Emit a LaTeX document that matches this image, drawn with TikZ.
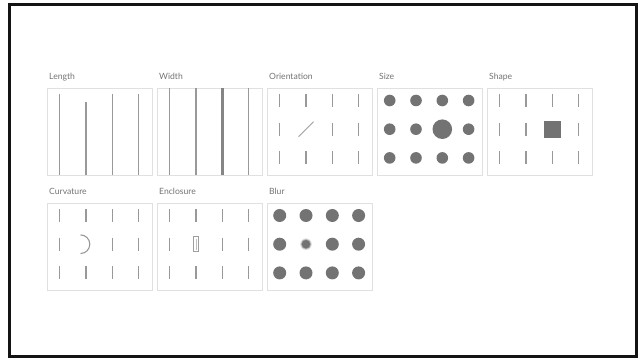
\documentclass[tikz,border=0pt]{standalone}
\usepackage{fontspec}
\setmainfont{Lato}
\begin{document}
\begin{tikzpicture}[x=1pt,y=-1pt,
  panel/.style={draw=black!12, line width=0.8pt, minimum width=105pt, minimum height=87pt, anchor=north west, inner sep=0pt},
  lbl/.style={anchor=base west, font=\fontsize{8.6}{10}\selectfont, text=black!55, inner sep=0pt},
  tick/.style={draw=black!40, line width=1.3pt},
  thin mark/.style={draw=black!38, line width=0.8pt},
  dot/.style={fill=black!55}]
\useasboundingbox (0,0) rectangle (642,358);
\draw[line width=3pt, black!92] (9.5,4.7) rectangle (636,356);

% panels
\node[panel] (L)  at (46.7,88) {};
\node[panel] (W)  at (156.7,88) {};
\node[panel] (O)  at (266.7,88) {};
\node[panel] (S)  at (376.7,88) {};
\node[panel] (Sh) at (486.7,88) {};
\node[panel] (C)  at (46.7,203) {};
\node[panel] (E)  at (156.7,203) {};
\node[panel] (B)  at (266.7,203) {};

% labels
\node[lbl] (tL)  at (49,80) {Length};
\node[lbl] (tW)  at (159,80) {Width};
\node[lbl] (tO)  at (269,80) {Orientation};
\node[lbl] (tS)  at (379,80) {Size};
\node[lbl] (tSh) at (489,80) {Shape};
\node[lbl] (tC)  at (49,195) {Curvature};
\node[lbl] (tE)  at (159,195) {Enclosure};
\node[lbl] (tB)  at (269,195) {Blur};

% Length
\begin{scope}[shift={(L.north west)}]
  \draw[tick] (13,6) -- (13,87);
  \draw[tick] (39.3,14) -- (39.3,87);
  \draw[tick] (65.6,6) -- (65.6,87);
  \draw[tick] (91.9,6) -- (91.9,87);
\end{scope}

% Width
\begin{scope}[shift={(W.north west)}]
  \draw[tick] (13,0) -- (13,87);
  \draw[tick] (39.3,0) -- (39.3,87);
  \draw[tick, line width=2.6pt, draw=black!48] (65.6,0) -- (65.6,87);
  \draw[tick] (91.9,0) -- (91.9,87);
\end{scope}

% Orientation
\begin{scope}[shift={(O.north west)}]
  \foreach \i in {0,1,2,3}
    \foreach \j in {0,1,2}{
      \ifnum\i\j=11\relax\else
        \draw[tick] (13+26.3*\i,12.5+28.7*\j-6.5) -- (13+26.3*\i,12.5+28.7*\j+6.5);
      \fi}
  \draw[thin mark] (39.3-7.5,41.2+7.5) -- (39.3+7.5,41.2-7.5);
\end{scope}

% Size
\begin{scope}[shift={(S.north west)}]
  \foreach \i in {0,1,2,3}
    \foreach \j in {0,1,2}{
      \ifnum\i\j=21\relax
        \fill[dot] (13+26.3*\i,12.5+28.7*\j) circle[radius=9.8];
      \else
        \fill[dot] (13+26.3*\i,12.5+28.7*\j) circle[radius=5.8];
      \fi}
\end{scope}

% Shape
\begin{scope}[shift={(Sh.north west)}]
  \foreach \i in {0,1,2,3}
    \foreach \j in {0,1,2}{
      \ifnum\i\j=21\relax
        \fill[dot] (65.6-8.5,41.2-8.5) rectangle (65.6+8.5,41.2+8.5);
      \else
        \draw[tick] (13+26.3*\i,12.5+28.7*\j-6.5) -- (13+26.3*\i,12.5+28.7*\j+6.5);
      \fi}
\end{scope}

% Curvature
\begin{scope}[shift={(C.north west)}]
  \foreach \i in {0,1,2,3}
    \foreach \j in {0,1,2}{
      \ifnum\i\j=11\relax\else
        \draw[tick] (13+26.3*\i,12.5+28.7*\j-6.5) -- (13+26.3*\i,12.5+28.7*\j+6.5);
      \fi}
  \draw[tick, line width=1.1pt] (33.8,41.2-9.3) arc[start angle=-90, end angle=90, radius=9.3];
\end{scope}

% Enclosure
\begin{scope}[shift={(E.north west)}]
  \foreach \i in {0,1,2,3}
    \foreach \j in {0,1,2}{
      \ifnum\i\j=11\relax\else
        \draw[tick] (13+26.3*\i,12.5+28.7*\j-6.5) -- (13+26.3*\i,12.5+28.7*\j+6.5);
      \fi}
  \draw[thin mark, line width=0.7pt] (39.3-2.8,41.2-7.5) rectangle (39.3+2.8,41.2+7.5);
  \draw[draw=black!25, line width=0.6pt] (39.3,41.2-5.5) -- (39.3,41.2+5.5);
\end{scope}

% Blur
\begin{scope}[shift={(B.north west)}]
  \foreach \i in {0,1,2,3}
    \foreach \j in {0,1,2}{
      \ifnum\i\j=11\relax
        \fill[dot, opacity=0.25] (13+26.3*\i,12.5+28.7*\j) circle[radius=5.8];
        \fill[dot, opacity=0.5] (13+26.3*\i,12.5+28.7*\j) circle[radius=5];
        \fill[dot] (13+26.3*\i,12.5+28.7*\j) circle[radius=4.2];
      \else
        \fill[dot] (13+26.3*\i,12.5+28.7*\j) circle[radius=6.5];
      \fi}
\end{scope}
\end{tikzpicture}
\end{document}
